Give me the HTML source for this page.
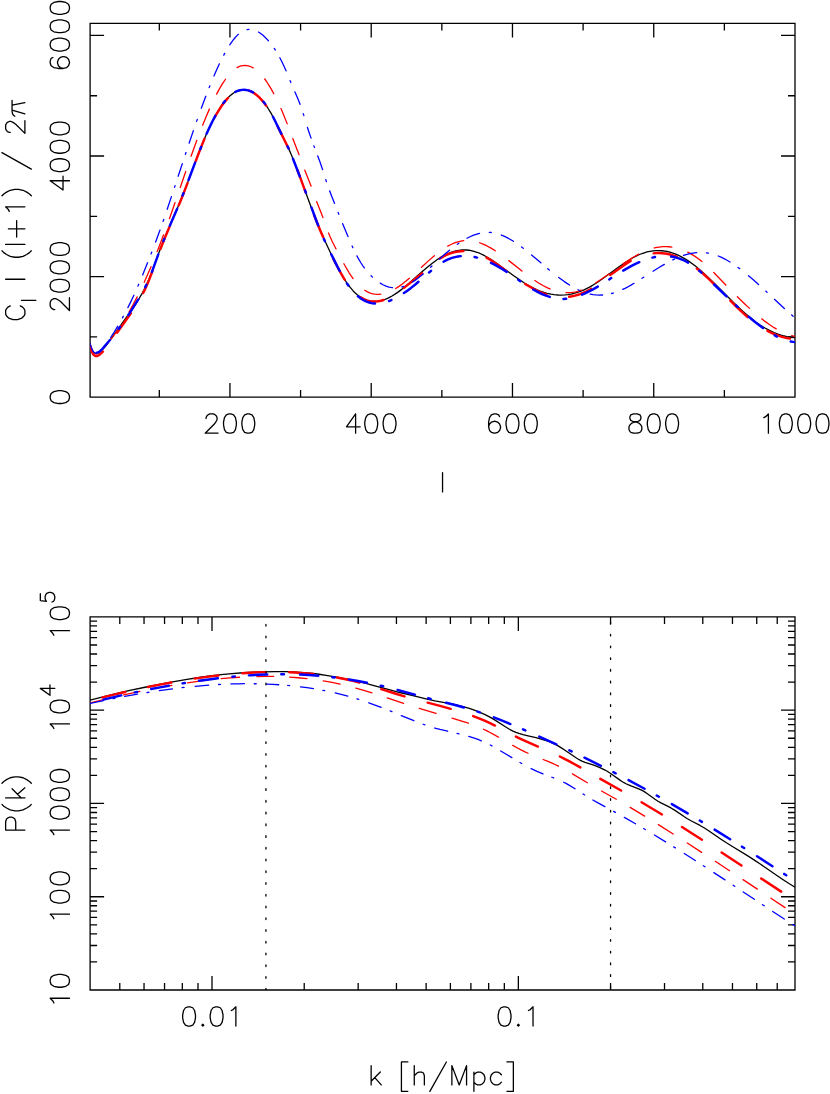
<!DOCTYPE html>
<html><head><meta charset="utf-8"><title>CMB and matter power spectra</title>
<style>html,body{margin:0;padding:0;background:#fff;font-family:"Liberation Sans",sans-serif}svg{display:block}</style>
</head><body>
<svg width="830" height="1094" viewBox="0 0 830 1094">
<rect width="830" height="1094" fill="#fff"/>
<g fill="none" stroke="#000" stroke-width="1.3" stroke-linecap="butt" stroke-linejoin="miter">
<path d="M90.1 23.4H795V397.1H90.1Z M90.1 616.9H795V990H90.1Z M159.32 397.1L159.32 390.1 M159.32 23.4L159.32 30.4 M229.95 397.1L229.95 383.1 M229.95 23.4L229.95 37.4 M300.58 397.1L300.58 390.1 M300.58 23.4L300.58 30.4 M371.21 397.1L371.21 383.1 M371.21 23.4L371.21 37.4 M441.84 397.1L441.84 390.1 M441.84 23.4L441.84 30.4 M512.47 397.1L512.47 383.1 M512.47 23.4L512.47 37.4 M583.11 397.1L583.11 390.1 M583.11 23.4L583.11 30.4 M653.74 397.1L653.74 383.1 M653.74 23.4L653.74 37.4 M724.37 397.1L724.37 390.1 M724.37 23.4L724.37 30.4 M90.1 336.83L97.1 336.83 M795 336.83L788 336.83 M90.1 276.55L104.1 276.55 M795 276.55L781 276.55 M90.1 216.28L97.1 216.28 M795 216.28L788 216.28 M90.1 156L104.1 156 M795 156L781 156 M90.1 95.73L97.1 95.73 M795 95.73L788 95.73 M90.1 35.45L104.1 35.45 M795 35.45L781 35.45 M119.79 990L119.79 983 M119.79 616.9L119.79 623.9 M144.04 990L144.04 983 M144.04 616.9L144.04 623.9 M164.55 990L164.55 983 M164.55 616.9L164.55 623.9 M182.32 990L182.32 983 M182.32 616.9L182.32 623.9 M197.99 990L197.99 983 M197.99 616.9L197.99 623.9 M212.01 990L212.01 976 M212.01 616.9L212.01 630.9 M304.22 990L304.22 983 M304.22 616.9L304.22 623.9 M358.17 990L358.17 983 M358.17 616.9L358.17 623.9 M396.44 990L396.44 983 M396.44 616.9L396.44 623.9 M426.13 990L426.13 983 M426.13 616.9L426.13 623.9 M450.39 990L450.39 983 M450.39 616.9L450.39 623.9 M470.89 990L470.89 983 M470.89 616.9L470.89 623.9 M488.66 990L488.66 983 M488.66 616.9L488.66 623.9 M504.33 990L504.33 983 M504.33 616.9L504.33 623.9 M518.35 990L518.35 976 M518.35 616.9L518.35 630.9 M610.56 990L610.56 983 M610.56 616.9L610.56 623.9 M664.51 990L664.51 983 M664.51 616.9L664.51 623.9 M702.78 990L702.78 983 M702.78 616.9L702.78 623.9 M732.47 990L732.47 983 M732.47 616.9L732.47 623.9 M756.73 990L756.73 983 M756.73 616.9L756.73 623.9 M777.23 990L777.23 983 M777.23 616.9L777.23 623.9 M90.1 961.92L97.1 961.92 M795 961.92L788 961.92 M90.1 945.5L97.1 945.5 M795 945.5L788 945.5 M90.1 933.84L97.1 933.84 M795 933.84L788 933.84 M90.1 924.8L97.1 924.8 M795 924.8L788 924.8 M90.1 917.42L97.1 917.42 M795 917.42L788 917.42 M90.1 911.17L97.1 911.17 M795 911.17L788 911.17 M90.1 905.76L97.1 905.76 M795 905.76L788 905.76 M90.1 900.99L97.1 900.99 M795 900.99L788 900.99 M90.1 896.73L104.1 896.73 M795 896.73L781 896.73 M90.1 868.65L97.1 868.65 M795 868.65L788 868.65 M90.1 852.22L97.1 852.22 M795 852.22L788 852.22 M90.1 840.57L97.1 840.57 M795 840.57L788 840.57 M90.1 831.53L97.1 831.53 M795 831.53L788 831.53 M90.1 824.14L97.1 824.14 M795 824.14L788 824.14 M90.1 817.9L97.1 817.9 M795 817.9L788 817.9 M90.1 812.49L97.1 812.49 M795 812.49L788 812.49 M90.1 807.72L97.1 807.72 M795 807.72L788 807.72 M90.1 803.45L104.1 803.45 M795 803.45L781 803.45 M90.1 775.37L97.1 775.37 M795 775.37L788 775.37 M90.1 758.95L97.1 758.95 M795 758.95L788 758.95 M90.1 747.29L97.1 747.29 M795 747.29L788 747.29 M90.1 738.25L97.1 738.25 M795 738.25L788 738.25 M90.1 730.87L97.1 730.87 M795 730.87L788 730.87 M90.1 724.62L97.1 724.62 M795 724.62L788 724.62 M90.1 719.21L97.1 719.21 M795 719.21L788 719.21 M90.1 714.44L97.1 714.44 M795 714.44L788 714.44 M90.1 710.17L104.1 710.17 M795 710.17L781 710.17 M90.1 682.1L97.1 682.1 M795 682.1L788 682.1 M90.1 665.67L97.1 665.67 M795 665.67L788 665.67 M90.1 654.02L97.1 654.02 M795 654.02L788 654.02 M90.1 644.98L97.1 644.98 M795 644.98L788 644.98 M90.1 637.59L97.1 637.59 M795 637.59L788 637.59 M90.1 631.35L97.1 631.35 M795 631.35L788 631.35 M90.1 625.94L97.1 625.94 M795 625.94L788 625.94 M90.1 621.17L97.1 621.17 M795 621.17L788 621.17"/>
</g>
<g fill="none" stroke="#000" stroke-width="1.3" stroke-linecap="round" stroke-linejoin="round">
<path transform="translate(229.95 433.2)" d="M-23.86 -14.68 L-23.86 -15.6 L-22.94 -17.43 L-22.02 -18.35 L-20.18 -19.27 L-16.52 -19.27 L-14.68 -18.35 L-13.76 -17.43 L-12.84 -15.6 L-12.84 -13.76 L-13.76 -11.93 L-15.6 -9.18 L-24.77 -0 L-11.93 -0 M-0.92 -19.27 L-3.67 -18.35 L-5.5 -15.6 L-6.42 -11.01 L-6.42 -8.26 L-5.5 -3.67 L-3.67 -0.92 L-0.92 -0 L0.92 -0 L3.67 -0.92 L5.5 -3.67 L6.42 -8.26 L6.42 -11.01 L5.5 -15.6 L3.67 -18.35 L0.92 -19.27 L-0.92 -19.27 M17.43 -19.27 L14.68 -18.35 L12.84 -15.6 L11.93 -11.01 L11.93 -8.26 L12.84 -3.67 L14.68 -0.92 L17.43 -0 L19.27 -0 L22.02 -0.92 L23.86 -3.67 L24.77 -8.26 L24.77 -11.01 L23.86 -15.6 L22.02 -18.35 L19.27 -19.27 L17.43 -19.27"/>
<path transform="translate(371.21 433.2)" d="M-15.6 -19.27 L-24.77 -6.42 L-11.01 -6.42 M-15.6 -19.27 L-15.6 -0 M-0.92 -19.27 L-3.67 -18.35 L-5.5 -15.6 L-6.42 -11.01 L-6.42 -8.26 L-5.5 -3.67 L-3.67 -0.92 L-0.92 -0 L0.92 -0 L3.67 -0.92 L5.5 -3.67 L6.42 -8.26 L6.42 -11.01 L5.5 -15.6 L3.67 -18.35 L0.92 -19.27 L-0.92 -19.27 M17.43 -19.27 L14.68 -18.35 L12.84 -15.6 L11.93 -11.01 L11.93 -8.26 L12.84 -3.67 L14.68 -0.92 L17.43 -0 L19.27 -0 L22.02 -0.92 L23.86 -3.67 L24.77 -8.26 L24.77 -11.01 L23.86 -15.6 L22.02 -18.35 L19.27 -19.27 L17.43 -19.27"/>
<path transform="translate(512.47 433.2)" d="M-12.84 -16.52 L-13.76 -18.35 L-16.52 -19.27 L-18.35 -19.27 L-21.1 -18.35 L-22.94 -15.6 L-23.86 -11.01 L-23.86 -6.42 L-22.94 -2.75 L-21.1 -0.92 L-18.35 -0 L-17.43 -0 L-14.68 -0.92 L-12.84 -2.75 L-11.93 -5.5 L-11.93 -6.42 L-12.84 -9.18 L-14.68 -11.01 L-17.43 -11.93 L-18.35 -11.93 L-21.1 -11.01 L-22.94 -9.18 L-23.86 -6.42 M-0.92 -19.27 L-3.67 -18.35 L-5.5 -15.6 L-6.42 -11.01 L-6.42 -8.26 L-5.5 -3.67 L-3.67 -0.92 L-0.92 -0 L0.92 -0 L3.67 -0.92 L5.5 -3.67 L6.42 -8.26 L6.42 -11.01 L5.5 -15.6 L3.67 -18.35 L0.92 -19.27 L-0.92 -19.27 M17.43 -19.27 L14.68 -18.35 L12.84 -15.6 L11.93 -11.01 L11.93 -8.26 L12.84 -3.67 L14.68 -0.92 L17.43 -0 L19.27 -0 L22.02 -0.92 L23.86 -3.67 L24.77 -8.26 L24.77 -11.01 L23.86 -15.6 L22.02 -18.35 L19.27 -19.27 L17.43 -19.27"/>
<path transform="translate(653.74 433.2)" d="M-20.18 -19.27 L-22.94 -18.35 L-23.86 -16.52 L-23.86 -14.68 L-22.94 -12.84 L-21.1 -11.93 L-17.43 -11.01 L-14.68 -10.09 L-12.84 -8.26 L-11.93 -6.42 L-11.93 -3.67 L-12.84 -1.83 L-13.76 -0.92 L-16.52 -0 L-20.18 -0 L-22.94 -0.92 L-23.86 -1.83 L-24.77 -3.67 L-24.77 -6.42 L-23.86 -8.26 L-22.02 -10.09 L-19.27 -11.01 L-15.6 -11.93 L-13.76 -12.84 L-12.84 -14.68 L-12.84 -16.52 L-13.76 -18.35 L-16.52 -19.27 L-20.18 -19.27 M-0.92 -19.27 L-3.67 -18.35 L-5.5 -15.6 L-6.42 -11.01 L-6.42 -8.26 L-5.5 -3.67 L-3.67 -0.92 L-0.92 -0 L0.92 -0 L3.67 -0.92 L5.5 -3.67 L6.42 -8.26 L6.42 -11.01 L5.5 -15.6 L3.67 -18.35 L0.92 -19.27 L-0.92 -19.27 M17.43 -19.27 L14.68 -18.35 L12.84 -15.6 L11.93 -11.01 L11.93 -8.26 L12.84 -3.67 L14.68 -0.92 L17.43 -0 L19.27 -0 L22.02 -0.92 L23.86 -3.67 L24.77 -8.26 L24.77 -11.01 L23.86 -15.6 L22.02 -18.35 L19.27 -19.27 L17.43 -19.27"/>
<path transform="translate(795 433.2)" d="M-31.2 -15.6 L-29.36 -16.52 L-26.61 -19.27 L-26.61 -0 M-10.09 -19.27 L-12.84 -18.35 L-14.68 -15.6 L-15.6 -11.01 L-15.6 -8.26 L-14.68 -3.67 L-12.84 -0.92 L-10.09 -0 L-8.26 -0 L-5.5 -0.92 L-3.67 -3.67 L-2.75 -8.26 L-2.75 -11.01 L-3.67 -15.6 L-5.5 -18.35 L-8.26 -19.27 L-10.09 -19.27 M8.26 -19.27 L5.5 -18.35 L3.67 -15.6 L2.75 -11.01 L2.75 -8.26 L3.67 -3.67 L5.5 -0.92 L8.26 -0 L10.09 -0 L12.84 -0.92 L14.68 -3.67 L15.6 -8.26 L15.6 -11.01 L14.68 -15.6 L12.84 -18.35 L10.09 -19.27 L8.26 -19.27 M26.61 -19.27 L23.86 -18.35 L22.02 -15.6 L21.1 -11.01 L21.1 -8.26 L22.02 -3.67 L23.86 -0.92 L26.61 -0 L28.44 -0 L31.2 -0.92 L33.03 -3.67 L33.95 -8.26 L33.95 -11.01 L33.03 -15.6 L31.2 -18.35 L28.44 -19.27 L26.61 -19.27"/>
<path transform="translate(442.55 491.9)" d="M0 -19.27 L0 -0"/>
<path transform="translate(69.45 397.1) rotate(-90)" d="M-0.92 -19.27 L-3.67 -18.35 L-5.5 -15.6 L-6.42 -11.01 L-6.42 -8.26 L-5.5 -3.67 L-3.67 -0.92 L-0.92 -0 L0.92 -0 L3.67 -0.92 L5.5 -3.67 L6.42 -8.26 L6.42 -11.01 L5.5 -15.6 L3.67 -18.35 L0.92 -19.27 L-0.92 -19.27"/>
<path transform="translate(69.45 276.55) rotate(-90)" d="M-33.03 -14.68 L-33.03 -15.6 L-32.11 -17.43 L-31.2 -18.35 L-29.36 -19.27 L-25.69 -19.27 L-23.86 -18.35 L-22.94 -17.43 L-22.02 -15.6 L-22.02 -13.76 L-22.94 -11.93 L-24.77 -9.18 L-33.95 -0 L-21.1 -0 M-10.09 -19.27 L-12.84 -18.35 L-14.68 -15.6 L-15.6 -11.01 L-15.6 -8.26 L-14.68 -3.67 L-12.84 -0.92 L-10.09 -0 L-8.26 -0 L-5.5 -0.92 L-3.67 -3.67 L-2.75 -8.26 L-2.75 -11.01 L-3.67 -15.6 L-5.5 -18.35 L-8.26 -19.27 L-10.09 -19.27 M8.26 -19.27 L5.5 -18.35 L3.67 -15.6 L2.75 -11.01 L2.75 -8.26 L3.67 -3.67 L5.5 -0.92 L8.26 -0 L10.09 -0 L12.84 -0.92 L14.68 -3.67 L15.6 -8.26 L15.6 -11.01 L14.68 -15.6 L12.84 -18.35 L10.09 -19.27 L8.26 -19.27 M26.61 -19.27 L23.86 -18.35 L22.02 -15.6 L21.1 -11.01 L21.1 -8.26 L22.02 -3.67 L23.86 -0.92 L26.61 -0 L28.44 -0 L31.2 -0.92 L33.03 -3.67 L33.95 -8.26 L33.95 -11.01 L33.03 -15.6 L31.2 -18.35 L28.44 -19.27 L26.61 -19.27"/>
<path transform="translate(69.45 156) rotate(-90)" d="M-24.77 -19.27 L-33.95 -6.42 L-20.18 -6.42 M-24.77 -19.27 L-24.77 -0 M-10.09 -19.27 L-12.84 -18.35 L-14.68 -15.6 L-15.6 -11.01 L-15.6 -8.26 L-14.68 -3.67 L-12.84 -0.92 L-10.09 -0 L-8.26 -0 L-5.5 -0.92 L-3.67 -3.67 L-2.75 -8.26 L-2.75 -11.01 L-3.67 -15.6 L-5.5 -18.35 L-8.26 -19.27 L-10.09 -19.27 M8.26 -19.27 L5.5 -18.35 L3.67 -15.6 L2.75 -11.01 L2.75 -8.26 L3.67 -3.67 L5.5 -0.92 L8.26 -0 L10.09 -0 L12.84 -0.92 L14.68 -3.67 L15.6 -8.26 L15.6 -11.01 L14.68 -15.6 L12.84 -18.35 L10.09 -19.27 L8.26 -19.27 M26.61 -19.27 L23.86 -18.35 L22.02 -15.6 L21.1 -11.01 L21.1 -8.26 L22.02 -3.67 L23.86 -0.92 L26.61 -0 L28.44 -0 L31.2 -0.92 L33.03 -3.67 L33.95 -8.26 L33.95 -11.01 L33.03 -15.6 L31.2 -18.35 L28.44 -19.27 L26.61 -19.27"/>
<path transform="translate(69.45 35.45) rotate(-90)" d="M-22.02 -16.52 L-22.94 -18.35 L-25.69 -19.27 L-27.52 -19.27 L-30.28 -18.35 L-32.11 -15.6 L-33.03 -11.01 L-33.03 -6.42 L-32.11 -2.75 L-30.28 -0.92 L-27.52 -0 L-26.61 -0 L-23.86 -0.92 L-22.02 -2.75 L-21.1 -5.5 L-21.1 -6.42 L-22.02 -9.18 L-23.86 -11.01 L-26.61 -11.93 L-27.52 -11.93 L-30.28 -11.01 L-32.11 -9.18 L-33.03 -6.42 M-10.09 -19.27 L-12.84 -18.35 L-14.68 -15.6 L-15.6 -11.01 L-15.6 -8.26 L-14.68 -3.67 L-12.84 -0.92 L-10.09 -0 L-8.26 -0 L-5.5 -0.92 L-3.67 -3.67 L-2.75 -8.26 L-2.75 -11.01 L-3.67 -15.6 L-5.5 -18.35 L-8.26 -19.27 L-10.09 -19.27 M8.26 -19.27 L5.5 -18.35 L3.67 -15.6 L2.75 -11.01 L2.75 -8.26 L3.67 -3.67 L5.5 -0.92 L8.26 -0 L10.09 -0 L12.84 -0.92 L14.68 -3.67 L15.6 -8.26 L15.6 -11.01 L14.68 -15.6 L12.84 -18.35 L10.09 -19.27 L8.26 -19.27 M26.61 -19.27 L23.86 -18.35 L22.02 -15.6 L21.1 -11.01 L21.1 -8.26 L22.02 -3.67 L23.86 -0.92 L26.61 -0 L28.44 -0 L31.2 -0.92 L33.03 -3.67 L33.95 -8.26 L33.95 -11.01 L33.03 -15.6 L31.2 -18.35 L28.44 -19.27 L26.61 -19.27"/>
<path transform="translate(24.9 210.55) rotate(-90)" d="M-95.33 -14.68 L-96.25 -16.52 L-98.08 -18.35 L-99.92 -19.27 L-103.59 -19.27 L-105.42 -18.35 L-107.26 -16.52 L-108.17 -14.68 L-109.09 -11.93 L-109.09 -7.34 L-108.17 -4.59 L-107.26 -2.75 L-105.42 -0.92 L-103.59 -0 L-99.92 -0 L-98.08 -0.92 L-96.25 -2.75 L-95.33 -4.59 M-89.82 -3.44 L-89.82 11.01 M-68.72 -19.27 L-68.72 -0 M-40.28 -22.94 L-42.11 -21.1 L-43.95 -18.35 L-45.78 -14.68 L-46.7 -10.09 L-46.7 -6.42 L-45.78 -1.83 L-43.95 1.83 L-42.11 4.59 L-40.28 6.42 M-33.86 -19.27 L-33.86 -0 M-18.26 -16.52 L-18.26 -0 M-26.52 -8.26 L-10 -8.26 M-0.83 -15.6 L1.01 -16.52 L3.76 -19.27 L3.76 -0 M14.77 -22.94 L16.61 -21.1 L18.44 -18.35 L20.28 -14.68 L21.19 -10.09 L21.19 -6.42 L20.28 -1.83 L18.44 1.83 L16.61 4.59 L14.77 6.42 M57.89 -22.94 L41.38 6.42 M78.08 -14.68 L78.08 -15.6 L79 -17.43 L79.91 -18.35 L81.75 -19.27 L85.42 -19.27 L87.25 -18.35 L88.17 -17.43 L89.09 -15.6 L89.09 -13.76 L88.17 -11.93 L86.34 -9.18 L77.16 -0 L90.01 -0 M94.36 -10.09 L95.24 -11.38 L96.61 -12.29 L98.91 -12.84 L110.19 -12.84 M100.37 -12.84 L96.7 -0 M105.47 -12.84 L107.9 -0"/>
<path transform="translate(212.01 1026.1)" d="M-23.86 -19.27 L-26.61 -18.35 L-28.44 -15.6 L-29.36 -11.01 L-29.36 -8.26 L-28.44 -3.67 L-26.61 -0.92 L-23.86 -0 L-22.02 -0 L-19.27 -0.92 L-17.43 -3.67 L-16.52 -8.26 L-16.52 -11.01 L-17.43 -15.6 L-19.27 -18.35 L-22.02 -19.27 L-23.86 -19.27 M-9.18 -1.83 L-10.09 -0.92 L-9.18 -0 L-8.26 -0.92 L-9.18 -1.83 M3.67 -19.27 L0.92 -18.35 L-0.92 -15.6 L-1.83 -11.01 L-1.83 -8.26 L-0.92 -3.67 L0.92 -0.92 L3.67 -0 L5.5 -0 L8.26 -0.92 L10.09 -3.67 L11.01 -8.26 L11.01 -11.01 L10.09 -15.6 L8.26 -18.35 L5.5 -19.27 L3.67 -19.27 M19.27 -15.6 L21.1 -16.52 L23.86 -19.27 L23.86 -0"/>
<path transform="translate(518.35 1026.1)" d="M-14.68 -19.27 L-17.43 -18.35 L-19.27 -15.6 L-20.18 -11.01 L-20.18 -8.26 L-19.27 -3.67 L-17.43 -0.92 L-14.68 -0 L-12.84 -0 L-10.09 -0.92 L-8.26 -3.67 L-7.34 -8.26 L-7.34 -11.01 L-8.26 -15.6 L-10.09 -18.35 L-12.84 -19.27 L-14.68 -19.27 M0 -1.83 L-0.92 -0.92 L0 -0 L0.92 -0.92 L0 -1.83 M10.09 -15.6 L11.93 -16.52 L14.68 -19.27 L14.68 -0"/>
<path transform="translate(442.25 1084.9)" d="M-71.11 -19.27 L-71.11 -0 M-61.93 -12.84 L-71.11 -3.67 M-67.44 -7.34 L-61.01 -0 M-40.83 -22.94 L-40.83 6.42 M-40.83 -22.94 L-34.41 -22.94 M-40.83 6.42 L-34.41 6.42 M-27.98 -19.27 L-27.98 -0 M-27.98 -9.18 L-25.23 -11.93 L-23.4 -12.84 L-20.64 -12.84 L-18.81 -11.93 L-17.89 -9.18 L-17.89 -0 M4.13 -22.94 L-12.39 6.42 M9.63 -19.27 L9.63 -0 M9.63 -19.27 L16.97 -0 M24.31 -19.27 L16.97 -0 M24.31 -19.27 L24.31 -0 M31.65 -12.84 L31.65 6.42 M31.65 -10.09 L33.49 -11.93 L35.32 -12.84 L38.08 -12.84 L39.91 -11.93 L41.75 -10.09 L42.66 -7.34 L42.66 -5.5 L41.75 -2.75 L39.91 -0.92 L38.08 -0 L35.32 -0 L33.49 -0.92 L31.65 -2.75 M59.18 -10.09 L57.34 -11.93 L55.51 -12.84 L52.76 -12.84 L50.92 -11.93 L49.09 -10.09 L48.17 -7.34 L48.17 -5.5 L49.09 -2.75 L50.92 -0.92 L52.76 -0 L55.51 -0 L57.34 -0.92 L59.18 -2.75 M71.11 -22.94 L71.11 6.42 M64.68 -22.94 L71.11 -22.94 M64.68 6.42 L71.11 6.42"/>
<path transform="translate(69.45 990) rotate(-90)" d="M-12.84 -15.6 L-11.01 -16.52 L-8.26 -19.27 L-8.26 -0 M8.26 -19.27 L5.5 -18.35 L3.67 -15.6 L2.75 -11.01 L2.75 -8.26 L3.67 -3.67 L5.5 -0.92 L8.26 -0 L10.09 -0 L12.84 -0.92 L14.68 -3.67 L15.6 -8.26 L15.6 -11.01 L14.68 -15.6 L12.84 -18.35 L10.09 -19.27 L8.26 -19.27"/>
<path transform="translate(69.45 896.73) rotate(-90)" d="M-22.02 -15.6 L-20.18 -16.52 L-17.43 -19.27 L-17.43 -0 M-0.92 -19.27 L-3.67 -18.35 L-5.5 -15.6 L-6.42 -11.01 L-6.42 -8.26 L-5.5 -3.67 L-3.67 -0.92 L-0.92 -0 L0.92 -0 L3.67 -0.92 L5.5 -3.67 L6.42 -8.26 L6.42 -11.01 L5.5 -15.6 L3.67 -18.35 L0.92 -19.27 L-0.92 -19.27 M17.43 -19.27 L14.68 -18.35 L12.84 -15.6 L11.93 -11.01 L11.93 -8.26 L12.84 -3.67 L14.68 -0.92 L17.43 -0 L19.27 -0 L22.02 -0.92 L23.86 -3.67 L24.77 -8.26 L24.77 -11.01 L23.86 -15.6 L22.02 -18.35 L19.27 -19.27 L17.43 -19.27"/>
<path transform="translate(69.45 803.45) rotate(-90)" d="M-31.2 -15.6 L-29.36 -16.52 L-26.61 -19.27 L-26.61 -0 M-10.09 -19.27 L-12.84 -18.35 L-14.68 -15.6 L-15.6 -11.01 L-15.6 -8.26 L-14.68 -3.67 L-12.84 -0.92 L-10.09 -0 L-8.26 -0 L-5.5 -0.92 L-3.67 -3.67 L-2.75 -8.26 L-2.75 -11.01 L-3.67 -15.6 L-5.5 -18.35 L-8.26 -19.27 L-10.09 -19.27 M8.26 -19.27 L5.5 -18.35 L3.67 -15.6 L2.75 -11.01 L2.75 -8.26 L3.67 -3.67 L5.5 -0.92 L8.26 -0 L10.09 -0 L12.84 -0.92 L14.68 -3.67 L15.6 -8.26 L15.6 -11.01 L14.68 -15.6 L12.84 -18.35 L10.09 -19.27 L8.26 -19.27 M26.61 -19.27 L23.86 -18.35 L22.02 -15.6 L21.1 -11.01 L21.1 -8.26 L22.02 -3.67 L23.86 -0.92 L26.61 -0 L28.44 -0 L31.2 -0.92 L33.03 -3.67 L33.95 -8.26 L33.95 -11.01 L33.03 -15.6 L31.2 -18.35 L28.44 -19.27 L26.61 -19.27"/>
<path transform="translate(69.45 710.17) rotate(-90)" d="M-18.35 -15.6 L-16.52 -16.52 L-13.76 -19.27 L-13.76 -0 M2.75 -19.27 L0 -18.35 L-1.83 -15.6 L-2.75 -11.01 L-2.75 -8.26 L-1.83 -3.67 L0 -0.92 L2.75 -0 L4.59 -0 L7.34 -0.92 L9.18 -3.67 L10.09 -8.26 L10.09 -11.01 L9.18 -15.6 L7.34 -18.35 L4.59 -19.27 L2.75 -19.27 M21.79 -29.13 L14.91 -19.5 L25.23 -19.5 M21.79 -29.13 L21.79 -14.68"/>
<path transform="translate(69.45 616.9) rotate(-90)" d="M-18.35 -15.6 L-16.52 -16.52 L-13.76 -19.27 L-13.76 -0 M2.75 -19.27 L0 -18.35 L-1.83 -15.6 L-2.75 -11.01 L-2.75 -8.26 L-1.83 -3.67 L0 -0.92 L2.75 -0 L4.59 -0 L7.34 -0.92 L9.18 -3.67 L10.09 -8.26 L10.09 -11.01 L9.18 -15.6 L7.34 -18.35 L4.59 -19.27 L2.75 -19.27 M23.17 -29.13 L16.29 -29.13 L15.6 -22.94 L16.29 -23.63 L18.35 -24.31 L20.41 -24.31 L22.48 -23.63 L23.86 -22.25 L24.54 -20.18 L24.54 -18.81 L23.86 -16.74 L22.48 -15.37 L20.41 -14.68 L18.35 -14.68 L16.29 -15.37 L15.6 -16.06 L14.91 -17.43"/>
<path transform="translate(24.9 803.45) rotate(-90)" d="M-26.61 -19.27 L-26.61 -0 M-26.61 -19.27 L-18.35 -19.27 L-15.6 -18.35 L-14.68 -17.43 L-13.76 -15.6 L-13.76 -12.84 L-14.68 -11.01 L-15.6 -10.09 L-18.35 -9.18 L-26.61 -9.18 M-0.92 -22.94 L-2.75 -21.1 L-4.59 -18.35 L-6.42 -14.68 L-7.34 -10.09 L-7.34 -6.42 L-6.42 -1.83 L-4.59 1.83 L-2.75 4.59 L-0.92 6.42 M5.5 -19.27 L5.5 -0 M14.68 -12.84 L5.5 -3.67 M9.18 -7.34 L15.6 -0 M20.18 -22.94 L22.02 -21.1 L23.86 -18.35 L25.69 -14.68 L26.61 -10.09 L26.61 -6.42 L25.69 -1.83 L23.86 1.83 L22.02 4.59 L20.18 6.42"/>
</g>
<clipPath id="c1"><rect x="90.1" y="23.4" width="704.9" height="373.7"/></clipPath>
<clipPath id="c2"><rect x="90.1" y="616.9" width="704.9" height="373.1"/></clipPath>
<g fill="none" stroke-linecap="round" stroke-linejoin="round" clip-path="url(#c1)">
<path stroke="#000" stroke-width="1.3" d="M90 343.69 L91 346.99 L92 349.52 L93 351.38 L94 352.63 L95 353.35 L96 353.62 L97 353.52 L98 353.13 L99 352.52 L101 350.92 L103 348.97 L105 346.73 L108 342.97 L111 338.93 L118 329.21 L132 309.46 L136 303.57 L139 298.8 L142 293.58 L144 289.79 L147 283.53 L149 278.91 L152 271.33 L159 252.41 L163 242.12 L168 230.03 L178 206.85 L181 199.59 L183 194.57 L187 184.15 L197 157.43 L202 144.62 L205 137.38 L207 132.79 L210 126.29 L212 122.22 L214 118.36 L216 114.72 L218 111.31 L220 108.13 L222 105.18 L224 102.47 L226 100 L228 97.79 L230 95.83 L232 94.13 L234 92.7 L236 91.54 L238 90.65 L240 90.02 L242 89.66 L244 89.56 L245 89.61 L247 89.91 L248 90.15 L250 90.83 L251 91.27 L253 92.34 L255 93.65 L257 95.22 L258 96.09 L260 98.03 L262 100.22 L264 102.64 L266 105.31 L268 108.23 L271 113.13 L274 118.72 L280 131.14 L286 143.09 L289 149.38 L291 153.89 L294 161.11 L298 171.41 L312 209.42 L315 217.32 L318 224.91 L321 232.12 L325 241.08 L330 251.68 L335 261.93 L339 269.69 L341 273.34 L343 276.81 L345 280.08 L347 283.1 L350 287.17 L353 290.67 L355 292.71 L357 294.51 L358 295.33 L360 296.8 L362 298.06 L364 299.11 L365 299.56 L367 300.32 L368 300.62 L370 301.09 L371 301.26 L373 301.47 L374 301.51 L376 301.46 L379 301.1 L382 300.41 L385 299.41 L387 298.59 L389 297.64 L392 296.02 L395 294.16 L398 292.11 L402 289.11 L405 286.7 L409 283.33 L422 271.83 L427 267.52 L432 263.47 L435 261.22 L437 259.81 L440 257.85 L443 256.09 L446 254.53 L448 253.61 L451 252.42 L454 251.45 L457 250.71 L459 250.35 L462 250.01 L464 249.93 L467 250.02 L469 250.23 L471 250.56 L474 251.28 L477 252.26 L480 253.47 L483 254.89 L486 256.49 L489 258.25 L492 260.15 L498 264.25 L513 275.18 L520 280.07 L524 282.69 L527 284.54 L530 286.27 L533 287.87 L537 289.78 L540 291.02 L544 292.42 L547 293.28 L551 294.16 L554 294.63 L558 295 L561 295.07 L565 294.9 L568 294.58 L571 294.08 L574 293.41 L578 292.24 L581 291.15 L584 289.89 L587 288.44 L590 286.83 L593 285.07 L596 283.19 L599 281.2 L605 276.99 L619 266.77 L623 263.97 L626 261.97 L630 259.46 L633 257.73 L636 256.15 L639 254.74 L642 253.52 L645 252.51 L647 251.96 L650 251.3 L653 250.85 L656 250.61 L659 250.58 L662 250.75 L665 251.13 L667 251.5 L669 251.95 L671 252.5 L673 253.13 L675 253.86 L677 254.67 L679 255.57 L681 256.57 L685 258.81 L689 261.39 L693 264.27 L696 266.61 L700 269.93 L704 273.46 L708 277.15 L716 284.91 L734 302.92 L739 307.74 L743 311.44 L748 315.84 L752 319.12 L756 322.16 L760 324.93 L763 326.83 L765 328.02 L769 330.18 L772 331.63 L774 332.51 L778 334.07 L781 335.06 L783 335.63 L787 336.57 L791 337.24 L795 337.62"/>
<path stroke="#f00" stroke-width="2.45" d="M90 346.19 L91 349.49 L92 352.02 L93 353.88 L94 355.13 L95 355.85 L96 356.12 L97 356.02 L98 355.63 L99 355.02 L100 354.27 L101 353.42 L102.86 351.61 M117.2 332.65 L130.88 313.18 M143.2 293.07 L146 287.19 L148 282.59 L150 277.61 L152.43 271.14 M160.44 248.94 L165 237.49 L169.46 226.92 M178.79 205.24 L183 194.84 L187.5 183.09 M195.76 160.97 L200 149.9 L204.49 138.83 M214.59 117.51 L216 114.95 L218 111.54 L221 106.85 L223 104.01 L225 101.42 L227 99.08 L228.05 97.96 M248.77 90.58 L251 91.46 L253 92.52 L255 93.83 L257 95.4 L259 97.21 L260 98.21 L262 100.39 L264 102.81 L266.21 105.78 M277.71 126.55 L280 131.29 L286 143.24 L288.32 148.07 M297.43 170.05 L301 179.58 L305.75 192.56 M314.02 214.88 L317 222.52 L319 227.46 L321 232.22 L323.14 237.08 M333.31 258.59 L336 264 L339 269.76 L342 275.17 L344.72 279.69 M360.55 297.22 L363 298.66 L364 299.16 L366 300.01 L367 300.36 L369 300.92 L370 301.13 L372 301.42 L373 301.5 L375 301.54 L378 301.29 L381 300.7 L383.51 299.97 M403.86 287.89 L410 283.15 L422.13 273.21 M440.04 258.33 L443 256.67 L446 255.2 L449 253.94 L452 252.9 L455 252.09 L458 251.52 L461 251.18 L463.34 251.1 M486.55 257.6 L491 260.3 L495 262.96 L499 265.77 L505.95 270.82 M525.17 283.98 L533 288.52 L537 290.61 L540 291.99 L542 292.82 L546.2 294.33 M569.2 296.73 L572 296.27 L575 295.6 L578 294.76 L580 294.1 L583 292.97 L586 291.65 L590 289.63 L591.3 288.81 M610.23 274.9 L624 265.22 L627 263.2 L630.62 260.9 M653.69 253.35 L656 253.14 L659 253.06 L662 253.18 L665 253.5 L668 254.03 L671 254.77 L673 255.37 L676.77 256.69 M696.85 268.45 L700 270.93 L704 274.51 L709 279.21 L714.08 284.19 M730.37 300.71 L736 306.32 L740 310.18 L744 313.85 L747.9 317.25 M767.48 330.89 L770 332.18 L773 333.58 L776 334.82 L779 335.91 L782 336.85 L785 337.63 L788 338.26 L790.08 338.61"/>
<path stroke="#f00" stroke-width="1.3" d="M90.12 343.84 L91 347.07 L92 349.84 L93 351.81 L94 353.07 L95 353.72 L96 353.87 L97 353.62 L98 353.06 L99.95 351.48 M110.76 339.45 L113 336.52 L116 332.4 L120.63 325.62 M129.1 311.81 L133 304.82 L137.18 296.85 M144.22 282.26 L148 273.81 L151.05 266.69 M157.15 251.65 L160 244.3 L163.58 234.8 M169.42 218.7 L175 202.72 M180.24 187.47 L185.74 171.46 M191.07 156.24 L196.85 140.34 M202.65 125.27 L206 117.04 L209.41 109.12 M216.61 94.07 L219 89.64 L221 86.17 L223 82.94 L225.51 79.24 M237.05 67.65 L239 66.66 L241 65.95 L243 65.53 L245 65.41 L247 65.57 L249 66.02 L251 66.75 L253.14 67.85 M264.7 79 L267 82.23 L269 85.31 L271 88.62 L273.82 93.7 M280.96 108.55 L284 115.73 L287.23 123.88 M292.84 138.66 L299.08 154.71 M304.73 170.11 L311.05 186.09 M316.63 201.49 L321 212.46 L322.96 217.55 M328.55 233.03 L330 236.56 L332 240.93 L336.08 248.93 M343.92 263.74 L347 269.2 L349 272.53 L351 275.64 L353.05 278.59 M364.74 290.25 L367 291.6 L369 292.55 L371 293.3 L373 293.84 L375 294.2 L377 294.37 L379 294.37 L380.75 294.22 M395.66 288.54 L399 286.38 L402 284.22 L406 281.08 L409.37 278.25 M421.48 267.26 L429 260.38 L434.37 255.72 M447.76 246.16 L450 244.97 L452 244.02 L454 243.18 L456 242.45 L458 241.83 L460 241.33 L462 240.94 L463.71 240.71 M479.64 242.74 L483 244.06 L487 245.96 L491 248.17 L495.24 250.8 M508.81 260.62 L521.98 270.99 M534.85 280.49 L539 283.19 L543 285.54 L547 287.61 L550.01 288.95 M566.02 292.68 L568 292.71 L570 292.65 L572 292.47 L574 292.19 L576 291.81 L578 291.31 L580 290.71 L581.85 290.06 M595.52 283.04 L602 278.81 L608.9 273.98 M623.13 263.83 L627 261.19 L631 258.61 L635 256.2 L638.78 254.11 M654.26 247.98 L657 247.39 L659 247.06 L661 246.83 L663 246.68 L665 246.61 L667 246.64 L669 246.76 L671.82 247.07 M687.78 252.19 L691 253.91 L695 256.38 L698 258.48 L701.91 261.52 M713.77 272.53 L725.79 285.02 M737.36 296.78 L744 303.23 L749.54 308.39 M761.73 318.85 L765 321.39 L769 324.29 L773 326.95 L776.23 328.91 M791.63 335.55 L795 336.32"/>
<path stroke="#00f" stroke-width="2.45" d="M96.73 352.67 L97 352.68 L98 352.43 L99 351.91 L100 351.17 L101 350.27 L102 349.24 L104 346.99 L109.9 340.01 M118.65 328.83 L120.14 326.82 M128.29 315.2 L133 307.95 L138.19 299.47 M145.19 287.13 L146.33 284.9 M151.96 271.89 L158.3 254.41 M163.38 241.16 L164.31 238.84 M169.81 225.76 L177.17 208.69 M182.55 195.56 L183.47 193.23 M188.56 179.98 L195.11 162.59 M200.22 149.35 L201.14 147.02 M206.63 133.84 L209 128.54 L211 124.29 L213 120.25 L215.3 115.88 M223.39 102.98 L224.96 100.96 M235.37 91.95 L237 91.18 L238 90.8 L240 90.22 L242 89.88 L244 89.79 L246 89.93 L247 90.09 L249 90.59 L251 91.34 L253.09 92.39 M263.53 101.83 L265.1 103.88 M272.98 116.76 L275 120.78 L279 129.08 L281.27 133.62 M287.67 146.45 L288.6 148.46 M292.97 158.75 L296 166.51 L299.84 176.67 M305.04 190.36 L305.99 192.85 M311.44 207.4 L316 219.76 L318.15 225.4 M323.86 238.91 L324.94 241.23 M331.21 254.18 L336 263.9 L339.68 271.02 M346.94 283.44 L348.38 285.52 M357.93 296.23 L360 297.87 L362 299.23 L364 300.39 L366 301.35 L368 302.13 L370 302.73 L372 303.16 L374.96 303.49 M389.02 301.01 L391.37 300.05 M403.91 293.06 L407 290.91 L411 287.91 L415 284.72 L418.48 281.79 M429.06 272.52 L431.05 270.82 M443.54 261.72 L446 260.4 L448 259.47 L450 258.65 L452 257.94 L454 257.35 L456 256.86 L458 256.48 L460.76 256.13 M474.6 256.99 L477.08 257.57 M490.98 262.8 L495 264.85 L499 267.08 L503 269.5 L506.73 271.89 M518.19 279.73 L520.32 281.2 M533.23 289.52 L538 292.11 L542 294.02 L546 295.65 L549.8 296.93 M563.48 298.96 L566.17 298.83 M582.08 294.68 L585 293.41 L589 291.47 L593 289.32 L597.76 286.57 M609.2 279.41 L611.25 278.09 M623.23 270.58 L628 267.82 L632 265.66 L636 263.66 L639.31 262.15 M652.41 257.63 L655.01 257.06 M671.09 256.5 L674 257.02 L676 257.49 L678 258.07 L680 258.75 L682 259.54 L684 260.43 L686 261.45 L688.08 262.62 M699.27 270.8 L701.39 272.62 M714.12 284.5 L726.5 296.4 M736.05 305.38 L737.85 307.03 M748.71 316.68 L752 319.46 L756 322.71 L760 325.81 L762.97 327.99 M774.72 335.4 L776.95 336.56 M790.7 341.46 L793 341.86 L795 342.11"/>
<path stroke="#00f" stroke-width="1.3" d="M90 343.11 L91 346.66 L92 349.34 L93 351.24 L94 352.45 L95 353.07 L96 353.2 L96.18 353.15 M103.58 346.91 L104.8 345.46 M110.66 337.5 L114 332.33 L117.65 326.3 M122.45 317.92 L123.35 316.28 M127.9 307.63 L131 301.38 L133.88 295.25 M137.97 286.07 L138.74 284.27 M142.64 274.93 L147.54 262.79 M151.06 253.89 L151.78 252.06 M155.62 242.04 L160.01 230.09 M163.11 221.3 L163.74 219.47 M167.21 209.28 L171.43 196.64 M174.49 187.39 L175.08 185.59 M178.16 176.24 L182.32 163.58 M185.38 154.33 L185.98 152.54 M189.1 143.2 L193.39 130.59 M196.59 121.38 L197.29 119.4 M201.31 108.21 L205.77 96.29 M209.16 87.62 L209.88 85.83 M213.95 76 L217 69.04 L219.4 63.83 M223.76 55.1 L224.66 53.42 M229.76 44.81 L232 41.56 L234 38.96 L236 36.65 L237 35.62 L238.37 34.33 M247.05 29.7 L248.96 29.47 M258.46 32.07 L260 33.03 L261 33.74 L263 35.34 L264 36.22 L266 38.16 L268.4 40.76 M274.28 48.48 L275.27 49.98 M279.83 57.77 L281 59.99 L283 64.06 L286.04 70.85 M290.11 80.63 L290.88 82.49 M294.96 91.93 L298 99.05 L300.06 104.32 M303.22 113.6 L303.86 115.66 M307.46 127.43 L309 132.2 L311.05 138.13 M313.92 145.88 L314.51 147.43 M317.75 155.93 L320 162.04 L322.59 169.61 M325.79 179.73 L326.39 181.6 M329.63 190.84 L332 197.05 L334.5 203.34 M338.15 212.45 L338.86 214.24 M342.65 223.69 L347.98 236.62 M352.09 245.99 L352.86 247.68 M356.92 255.93 L359 259.7 L361 262.99 L363 266.01 L364.37 267.91 M371.09 275.74 L372.49 277.1 M380.24 283.16 L383 284.72 L386 286.06 L389 287.03 L391 287.47 L392.47 287.69 M402 286.98 L403.8 286.42 M412.62 282.01 L415 280.41 L418 278.19 L421 275.79 L423.24 273.89 M430.51 267.34 L431.93 266.02 M439.48 259 L445 254.08 L449.56 250.24 M457.33 244.3 L458.85 243.24 M466.98 238.27 L470 236.76 L473 235.45 L476 234.35 L479.53 233.35 M489.34 232.37 L491.29 232.51 M501.32 235.03 L504 236.15 L507 237.59 L510 239.23 L513.43 241.31 M521.63 247.02 L523.22 248.24 M531.56 254.95 L540.9 262.87 M547.73 268.66 L549.3 269.97 M558.71 277.47 L564 281.35 L567 283.4 L569.53 285.03 M577.95 289.75 L579.77 290.59 M590.19 294.11 L593 294.63 L596 294.96 L599 295.09 L602.57 294.98 M611.55 293.5 L613.34 293.01 M622.77 289.44 L625 288.36 L628 286.8 L631 285.12 L634.07 283.31 M642.03 278.3 L643.7 277.22 M653.04 271.21 L659 267.5 L664.29 264.38 M672.8 259.88 L674.48 259.08 M683.52 255.45 L687 254.39 L690 253.66 L693 253.08 L696.64 252.63 M706.46 252.83 L708.37 253.13 M718.2 256 L721 257.19 L724 258.64 L727 260.25 L730 262.01 M738.04 267.41 L739.68 268.62 M748.5 275.64 L753 279.51 L758.53 284.46 M765.71 291.09 L767.11 292.4 M774.48 299.33 L784.33 308.5 M791.68 315.04 L793.12 316.29"/>
</g>
<g fill="none" stroke-linecap="round" stroke-linejoin="round" clip-path="url(#c2)">
<path stroke="#000" stroke-width="1.3" d="M90 700.06 L103 696.77 L117 693.41 L131 690.24 L145 687.24 L159 684.43 L174 681.62 L187 679.37 L199 677.49 L210 675.99 L221 674.7 L232 673.62 L243 672.77 L254 672.15 L264 671.8 L275 671.64 L285 671.72 L293 671.96 L300 672.32 L307 672.86 L313 673.48 L319 674.25 L326 675.34 L334 676.72 L343 678.41 L354 680.69 L365 683.24 L373 685.31 L390 689.95 L397 691.79 L403 693.25 L414 695.79 L427 699.07 L435 700.81 L454 704.48 L459 705.59 L464 706.84 L470 708.6 L475 710.32 L480 712.3 L485 714.57 L489 716.62 L493 718.88 L497 721.36 L505 726.55 L509 728.97 L511 730.07 L513 731.08 L516 732.39 L519 733.48 L523 734.68 L527 735.67 L537 737.95 L542 739.28 L547 740.88 L550 742.01 L552 742.86 L556 744.78 L558 745.88 L561 747.67 L565 750.25 L576 757.72 L578 758.98 L580 760.11 L582 761.09 L585 762.3 L593 764.91 L597 766.37 L601 768.07 L605 770.06 L608 771.77 L611 773.68 L620 780.12 L622 781.46 L624 782.69 L626 783.76 L628 784.7 L631 785.92 L638 788.55 L641 789.88 L643 790.91 L645 792.11 L647 793.45 L655 799.25 L658 801.22 L661 802.88 L668 806.31 L671 807.94 L675 810.41 L684 816.56 L687 818.48 L691 820.74 L700 825.44 L704 827.77 L709 830.99 L721 839.26 L726 842.56 L732 846.31 L747 855.43 L754 859.9 L761 864.58 L782 878.94 L789 883.51 L794.6 886.97"/>
<path stroke="#f00" stroke-width="2.45" d="M102.46 697.48 L114 694.67 L125.26 692.03 M147.99 687.05 L160 684.64 L171.33 682.5 M194.62 678.62 L207 676.86 L218.52 675.43 M242.3 673.21 L254 672.52 L265.84 672.11 M289.23 672.28 L295 672.54 L301 672.91 L307 673.39 L313.27 674 M336.86 677.44 L342 678.45 L348 679.74 L354 681.18 L359.33 682.57 M381.28 689.17 L395 693.53 L404.46 696.4 M427.68 702.68 L441 706.16 L450.68 708.84 M473.14 716.12 L479 718.38 L484 720.46 L490 723.16 L494.97 725.57 M515.91 736.54 L520 738.53 L525 740.86 L537.99 746.59 M559.86 756.49 L564 758.56 L569 761.17 L580.35 767.4 M600.35 778.84 L621.07 790.55 M641.55 802.25 L652 808.43 L661.98 814.46 M682.02 826.92 L701.95 839.67 M721.61 852.48 L741.45 865.54 M761.12 878.5 L781.21 891.63"/>
<path stroke="#f00" stroke-width="1.3" d="M91.36 702.74 L107.86 698.65 M123.62 694.96 L139.9 691.4 M155.46 688.27 L164 686.67 L171.85 685.29 M187.56 682.77 L196 681.57 L204.74 680.44 M221.2 678.65 L230 677.89 L239.51 677.23 M256.94 676.5 L265 676.4 L273.69 676.47 M289.66 677.11 L298 677.73 L306.96 678.62 M323.34 680.91 L332 682.47 L340.07 684.15 M355.82 688.07 L363 690.13 L371.96 692.9 M387.22 697.93 L403.58 703.38 M419.24 708.36 L436.02 713.46 M452.03 718.18 L461 720.85 L468.36 723.22 M483.49 729.22 L487 730.92 L490 732.46 L494 734.61 L498.63 737.2 M512.77 745.34 L517 747.7 L521 749.83 L525 751.84 L528 753.25 M543.1 759.49 L548 761.46 L552 763.15 L555 764.5 L558.47 766.16 M572.47 773.89 L587.34 782.73 M601.56 791.03 L616.28 799.25 M630.16 807.33 L644.63 816.13 M658.37 824.66 L673.19 834.02 M687.25 843.02 L701.66 852.36 M715.34 861.32 L729.54 870.67 M743.05 879.63 L757.34 889.15 M770.94 898.23 L785.08 907.66"/>
<path stroke="#00f" stroke-width="2.45" d="M103.47 699.57 L121.21 695.38 M134.8 692.38 L137.23 691.87 M151.17 689.03 L160 687.33 L168.91 685.7 M182.5 683.37 L184.94 682.97 M199.04 680.81 L209 679.42 L217.89 678.3 M232.33 676.73 L234.84 676.49 M248.91 675.35 L258 674.81 L267.25 674.43 M281.27 674.2 L283.93 674.21 M300.01 674.58 L309 675.06 L318.33 675.75 M332.27 677.17 L334.74 677.46 M348.8 679.44 L358 680.99 L366.94 682.7 M380.69 685.7 L383.18 686.29 M397.54 689.95 L414.88 694.66 M428.13 698.2 L430.67 698.86 M446.08 702.73 L456 705.27 L463.94 707.45 M477.42 711.58 L479.85 712.39 M493.8 717.39 L501 720.2 L510.41 724.06 M523 729.39 L525.34 730.4 M539.33 736.55 L556.4 744.31 M569.36 750.38 L571.64 751.46 M584.49 757.66 L600.93 765.81 M613.4 772.18 L615.65 773.34 M628.56 780.12 L644.58 788.78 M656.73 795.53 L658.95 796.77 M671.85 804.13 L687.7 813.39 M699.74 820.57 L701.93 821.89 M714.63 829.62 L730.16 839.24 M741.96 846.66 L744.14 848.05 M757.02 856.27 L772.44 866.24 M784.17 873.91 L786.24 875.28"/>
<path stroke="#00f" stroke-width="1.3" d="M90.34 703.43 L103.45 700.64 M113.05 698.69 L114.92 698.32 M124.63 696.46 L137.53 694.13 M146.98 692.55 L148.9 692.24 M159.34 690.65 L172.45 688.84 M182.07 687.67 L184.07 687.44 M195.15 686.3 L208.65 685.16 M218.54 684.52 L220.51 684.42 M230.95 683.97 L238 683.78 L244.41 683.7 M254.25 683.73 L256.19 683.76 M266.4 684.06 L273 684.38 L278.73 684.74 M287.73 685.47 L289.65 685.65 M300.53 686.84 L307 687.7 L313.42 688.67 M322.79 690.31 L324.72 690.68 M335.21 692.92 L342 694.57 L347.81 696.13 M356.92 698.83 L358.77 699.42 M368.8 702.79 L375 705.02 L381.17 707.36 M390.13 710.92 L391.91 711.64 M401.31 715.56 L413.84 720.72 M423.1 724.25 L424.93 724.9 M434.72 728.02 L440 729.43 L447.61 731.23 M457.08 733.36 L458.95 733.79 M468.73 736.33 L472 737.32 L475 738.32 L478 739.42 L481.39 740.79 M490.26 745.03 L491.96 745.93 M500.74 750.94 L511.85 757.67 M520 762.53 L521.7 763.5 M531.16 768.59 L537 771.39 L542.96 773.93 M551.84 777.26 L553.68 777.95 M563.67 782.21 L566 783.41 L569 785.09 L575.04 788.75 M583.12 793.94 L584.68 794.93 M592.87 799.96 L598 802.86 L604.86 806.61 M613.65 811.43 L615.37 812.39 M624.34 817.42 L635.5 823.81 M643.62 828.56 L645.29 829.55 M654.44 835.02 L665.6 841.83 M673.71 846.87 L675.36 847.9 M684.24 853.5 L695.27 860.55 M703.32 865.74 L704.96 866.81 M713.84 872.59 L724.98 879.9 M733.11 885.26 L734.72 886.32 M743.24 891.95 L754.37 899.32 M762.51 904.7 L764.13 905.77 M772.76 911.47 L784.26 919.02 M792.68 924.52 L794.3 925.57"/>
<path stroke="#000" stroke-width="1.3" stroke-dasharray="1.66 10.08" stroke-dashoffset="0" d="M265.95 990L265.95 616.9"/>
<path stroke="#000" stroke-width="1.3" stroke-dasharray="1.66 10.08" stroke-dashoffset="9.9" d="M610.56 990L610.56 616.9"/>
</g>
</svg>
</body></html>
